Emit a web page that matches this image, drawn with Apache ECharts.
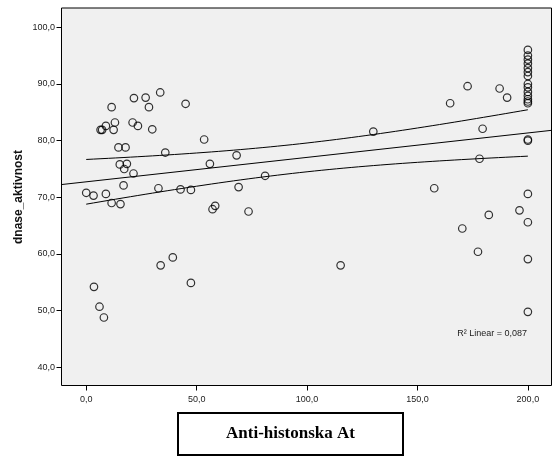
<!DOCTYPE html>
<html>
<head>
<meta charset="utf-8">
<script src="https://cdn.jsdelivr.net/npm/echarts@6/dist/echarts.min.js"></script>
<style>html,body{margin:0;padding:0;background:#fff}#c{width:553px;height:457px}</style>
</head>
<body>
<div id="c"></div>
<script>
// Anti-histonska At (x) values
const xValues = [
  6.5, 7.2, 8.9, 11.5, 12.4, 13.0, 21.6, 21.0, 23.4, 26.9, 28.4, 29.9, 33.5, 45.0,
  14.6, 17.8, 35.8, 15.2, 18.4, 17.2, 21.4, 16.9, 32.7, 42.7, 47.4, 0.0, 3.3, 8.9,
  11.5, 15.5, 3.5, 6.0, 8.0, 33.7, 39.2, 47.4, 53.4, 68.1, 56.0, 81.0, 69.0, 130.0,
  58.4, 57.2, 73.5, 115.2,
  164.8, 172.7, 187.2, 190.6, 179.5, 178.1, 157.6, 196.2, 182.3, 170.3, 177.4,
  200, 200, 200, 200, 200, 200, 200, 200, 200, 200, 200, 200, 200, 200,
  200, 200, 200, 200, 200, 200
];
// dnase_aktivnost (y) values
const yValues = [
  81.9, 81.9, 82.6, 85.9, 81.9, 83.2, 87.5, 83.2, 82.6, 87.6, 85.9, 82.0, 88.5, 86.5,
  78.8, 78.8, 77.9, 75.8, 75.9, 75.0, 74.2, 72.1, 71.6, 71.4, 71.3, 70.8, 70.3, 70.6,
  69.0, 68.8, 54.2, 50.7, 48.8, 58.0, 59.4, 54.9, 80.2, 77.4, 75.9, 73.8, 71.8, 81.6,
  68.5, 67.9, 67.5, 58.0,
  86.6, 89.6, 89.2, 87.6, 82.1, 76.8, 71.6, 67.7, 66.9, 64.5, 60.4,
  96.0, 95.0, 94.3, 93.6, 92.8, 92.1, 91.4, 90.0, 89.4, 88.6, 87.9, 87.3, 86.9, 86.6,
  80.2, 80.0, 70.6, 65.6, 59.1, 49.8
];
const xTicks = [0, 50, 100, 150, 200];
const yTicks = [40, 50, 60, 70, 80, 90, 100];
const xTitle = 'Anti-histonska At';
const yTitle = 'dnase_aktivnost';
const r2Label = 'R\u00B2 Linear = 0,087';

const X_MIN = -11.2, X_MAX = 210.7, Y_MIN = 36.8, Y_MAX = 103.4;

// linear regression with 95% mean confidence band
const n = xValues.length;
const xbar = xValues.reduce((a, b) => a + b, 0) / n;
const ybar = yValues.reduce((a, b) => a + b, 0) / n;
let sxx = 0, sxy = 0;
for (let i = 0; i < n; i++) { sxx += (xValues[i] - xbar) ** 2; sxy += (xValues[i] - xbar) * (yValues[i] - ybar); }
const slope = sxy / sxx, icpt = ybar - slope * xbar;
let sse = 0;
for (let i = 0; i < n; i++) { sse += (yValues[i] - icpt - slope * xValues[i]) ** 2; }
const s = Math.sqrt(sse / (n - 2));
const t = 1.992;
const xLo = Math.min(...xValues), xHi = Math.max(...xValues);
const upper = [], lower = [];
for (let k = 0; k <= 60; k++) {
  const x = xLo + (xHi - xLo) * k / 60;
  const yh = icpt + slope * x;
  const w = t * s * Math.sqrt(1 / n + (x - xbar) ** 2 / sxx);
  upper.push([x, yh + w]); lower.push([x, yh - w]);
}
const fitLine = [[X_MIN, icpt + slope * X_MIN], [X_MAX, icpt + slope * X_MAX]];

const fmt = v => v.toFixed(1).replace('.', ',');
const font = 'Liberation Sans, Arial, sans-serif';

const chart = echarts.init(document.getElementById('c'), null, { renderer: 'canvas' });
chart.setOption({
  animation: false,
  backgroundColor: '#fff',
  grid: { left: 61.5, top: 8, right: 1.5, bottom: 71.5, show: true, backgroundColor: '#f0f0f0', borderColor: '#000', borderWidth: 1 },
  xAxis: {
    type: 'value', min: X_MIN, max: X_MAX,
    axisLine: { show: false, onZero: false },
    splitLine: { show: false },
    axisTick: { show: true, length: 5, inside: false, customValues: xTicks, lineStyle: { color: '#000' } },
    axisLabel: { customValues: xTicks, formatter: fmt, color: '#222', fontSize: 9, fontFamily: font, margin: 10 }
  },
  yAxis: {
    type: 'value', min: Y_MIN, max: Y_MAX,
    axisLine: { show: false, onZero: false },
    splitLine: { show: false },
    axisTick: { show: true, length: 5, inside: false, customValues: yTicks, lineStyle: { color: '#000' } },
    axisLabel: { customValues: yTicks, formatter: fmt, color: '#222', fontSize: 9, fontFamily: font, margin: 6.5 }
  },
  series: [
    { type: 'line', data: fitLine, symbol: 'none', lineStyle: { color: '#000', width: 1 }, silent: true, z: 2 },
    { type: 'line', data: upper, symbol: 'none', smooth: false, lineStyle: { color: '#000', width: 1 }, silent: true, z: 2 },
    { type: 'line', data: lower, symbol: 'none', smooth: false, lineStyle: { color: '#000', width: 1 }, silent: true, z: 2 },
    { type: 'scatter', data: xValues.map((x, i) => [x, yValues[i]]), symbol: 'circle', symbolSize: 7.5,
      itemStyle: { color: 'rgba(0,0,0,0)', borderColor: '#000', borderWidth: 1.2 }, z: 3 }
  ],
  graphic: [
    { type: 'text', x: 19, y: 197, rotation: Math.PI / 2,
      style: { text: yTitle, font: 'bold 12px ' + font, fill: '#111', textAlign: 'center', textVerticalAlign: 'middle' } },
    { type: 'text', x: 527, y: 334,
      style: { text: r2Label, font: '9px ' + font, fill: '#222', textAlign: 'right', textVerticalAlign: 'middle' } },
    { type: 'rect', shape: { x: 178, y: 413, width: 225, height: 42 },
      style: { fill: '#fff', stroke: '#000', lineWidth: 2 } },
    { type: 'text', x: 290.5, y: 434,
      style: { text: xTitle, font: 'bold 17px Liberation Serif, Times New Roman, serif', fill: '#000', textAlign: 'center', textVerticalAlign: 'middle' } }
  ]
});
</script>
</body>
</html>
